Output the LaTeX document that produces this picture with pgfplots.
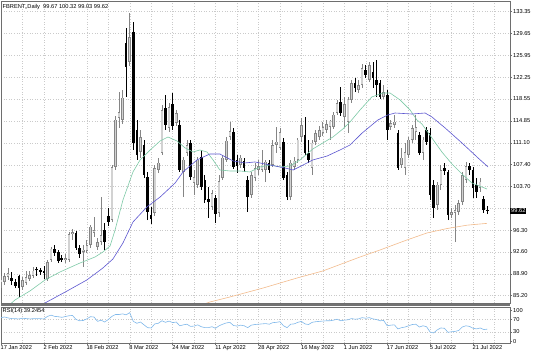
\documentclass[border=0pt]{standalone}
\usepackage{pgfplots}
\pgfplotsset{compat=1.18}
\usepackage{pgfplotstable}
\usepackage{fontspec}
\setmainfont{Liberation Sans}
\definecolor{upfill}{HTML}{D2D2D2}
\definecolor{upline}{HTML}{858585}
\definecolor{magreen}{HTML}{7CC9A6}
\definecolor{mablue}{HTML}{5B55D0}
\definecolor{maorange}{HTML}{F2BB8C}
\definecolor{rsiblue}{HTML}{80B8EA}
\definecolor{gridc}{HTML}{CACACA}
\definecolor{framec}{HTML}{6E6E6E}
\newcommand{\mtfont}{\fontsize{5.7}{6}\selectfont}

\pgfplotstableread{
i o h l c
0 87.35 88.54 86.50 88.03
1 87.52 89.05 87.01 88.54
2 88.37 89.90 87.86 89.05
3 88.20 89.22 87.01 87.69
4 87.52 88.03 86.50 86.84
5 88.54 88.71 84.98 86.50
6 86.67 88.37 86.17 87.86
7 87.35 89.39 87.01 88.37
8 88.03 89.39 87.69 88.71
9 88.54 90.07 88.20 89.39
10 89.56 90.07 88.54 89.47
11 89.56 89.90 88.71 89.22
12 89.39 90.24 88.03 89.05
13 88.03 91.25 87.69 90.91
14 91.25 93.46 90.91 93.12
15 93.12 93.79 91.93 92.44
16 92.61 92.95 90.74 91.08
17 91.59 92.10 90.91 91.25
18 91.25 92.27 90.74 91.59
19 91.25 96.00 90.91 95.66
20 95.66 96.51 94.64 96.00
21 95.83 96.17 92.95 93.29
22 93.29 93.79 91.59 92.27
23 92.61 93.79 90.07 92.95
24 92.78 94.64 92.44 93.79
25 93.79 97.19 93.29 96.85
26 95.83 98.54 95.15 96.34
27 93.46 94.98 92.95 94.30
28 94.30 101.93 93.79 95.49
29 96.34 97.52 92.95 94.30
30 98.71 100.07 97.02 97.69
31 98.03 107.36 97.69 107.02
32 107.02 115.67 106.51 114.99
33 115.33 119.73 113.63 116.34
34 114.99 120.07 114.31 118.72
35 128.04 130.58 118.89 123.97
36 124.82 133.13 124.14 129.06
37 129.90 131.60 109.90 111.09
38 113.29 114.99 108.21 109.05
39 109.56 113.29 108.55 112.10
40 110.75 111.60 105.15 105.66
41 105.32 106.17 98.03 99.39
42 98.88 100.24 97.36 98.20
43 99.22 107.36 98.71 106.85
44 106.51 108.55 105.99 107.70
45 109.39 117.53 109.05 116.68
46 117.02 119.22 113.29 114.14
47 113.63 117.87 112.95 117.19
48 117.70 119.56 113.29 113.97
49 114.48 116.68 113.97 116.17
50 114.14 114.99 106.17 106.51
51 106.17 108.72 101.93 108.21
52 109.39 111.60 108.88 110.75
53 111.09 111.60 104.81 105.32
54 104.31 106.51 102.27 105.32
55 103.97 108.72 103.46 108.21
56 108.72 109.90 103.12 103.63
57 104.81 105.66 100.91 101.42
58 101.59 103.63 98.37 101.08
59 100.24 103.12 99.73 102.61
60 101.76 102.27 97.52 99.05
61 99.22 105.66 98.54 104.64
62 105.15 109.05 104.81 108.55
63 108.21 112.10 107.87 111.43
64 112.10 114.65 111.60 113.12
65 112.95 113.63 106.68 107.02
66 108.21 109.05 106.00 107.19
67 107.36 109.05 106.85 108.55
68 108.04 108.55 106.17 106.85
69 104.81 105.49 99.39 101.93
70 102.27 106.17 101.76 105.66
71 105.15 107.70 104.64 106.85
72 106.51 108.21 105.66 107.19
73 106.51 109.90 106.17 107.36
74 106.51 108.21 104.48 107.87
75 107.70 108.21 106.00 106.51
76 107.36 111.60 107.02 110.75
77 110.75 113.80 109.39 111.26
78 110.24 113.63 109.90 112.95
79 111.26 111.94 104.81 105.15
80 105.66 106.17 101.42 101.93
81 101.93 108.21 101.42 107.70
82 107.02 108.72 106.51 108.04
83 108.21 111.94 107.70 111.60
84 112.10 115.33 111.26 114.14
85 112.44 115.50 109.05 109.39
86 109.39 111.60 107.70 108.21
87 106.85 111.60 105.66 111.09
88 111.26 113.29 110.75 112.78
89 112.10 113.97 111.60 113.29
90 112.78 114.65 112.27 113.80
91 113.29 114.99 112.78 114.31
92 113.80 114.99 111.60 114.82
93 113.80 116.34 113.46 115.84
94 116.17 118.38 115.84 117.87
95 118.04 120.58 115.67 116.17
96 115.50 118.89 113.80 117.70
97 114.65 118.89 112.78 118.38
98 118.38 121.77 117.87 121.26
99 121.26 122.11 119.73 120.41
100 120.07 121.77 119.56 120.92
101 120.92 124.48 120.41 123.80
102 123.46 124.31 122.11 122.62
103 121.77 124.82 121.43 124.31
104 123.12 124.82 120.41 122.11
105 121.77 125.16 118.89 120.92
106 121.26 121.77 118.55 118.89
107 118.89 120.92 118.55 119.73
108 119.22 120.07 111.60 113.29
109 113.80 114.99 113.29 114.48
110 114.14 115.84 113.63 114.65
111 112.78 113.29 106.51 106.85
112 107.36 110.24 106.85 108.55
113 106.85 111.09 105.66 109.56
114 109.05 112.10 108.55 111.60
115 111.60 114.14 111.09 113.63
116 112.95 115.84 111.60 113.80
117 112.44 112.95 109.05 109.39
118 109.39 112.10 108.21 111.60
119 113.29 113.80 110.75 111.26
120 112.78 113.63 101.42 102.27
121 103.97 104.81 98.37 100.07
122 100.58 104.48 99.73 103.97
123 103.97 107.36 103.12 106.51
124 106.85 107.70 105.66 106.34
125 106.17 106.51 98.03 98.88
126 98.88 100.07 98.37 99.39
127 99.22 100.58 94.30 99.73
128 99.39 101.42 98.88 100.91
129 101.08 106.17 100.58 105.66
130 104.81 107.87 104.31 107.19
131 107.19 107.70 105.66 106.51
132 106.51 107.02 101.76 103.46
133 103.97 105.15 101.76 102.78
134 103.46 105.15 102.78 104.48
135 101.59 102.10 99.22 99.73
136 99.67 100.32 99.03 99.62
}\candles

\pgfplotsset{
  mtgrid/.style={grid style={gridc, dash pattern=on 0.6pt off 2.0pt, line width=0.45pt}},
}

\begin{document}
\begin{tikzpicture}
\useasboundingbox (0pt,0pt) rectangle (536pt,352pt);

\begin{axis}[
  at={(1pt,49pt)}, anchor=south west,
  scale only axis, width=509pt, height=302pt,
  xmin=0, xmax=142.34, ymin=83.96, ymax=135.16,
  clip mode=individual,
  axis line style={framec, line width=0.5pt},
  mtgrid,
  xtick={0,6,...,138}, xticklabels={}, xmajorgrids,
  major x tick style={draw=none},
  ytick={85.20,88.90,92.60,96.30,100.00,103.70,107.40,111.10,114.85,118.55,122.25,125.95,129.65,133.35},
  yticklabels={85.20,88.90,92.60,96.30,{},103.70,107.40,111.10,114.85,118.55,122.25,125.95,129.65,133.35},
  ymajorgrids,
  ytick pos=right, yticklabel pos=right,
  tick align=outside, major tick length=2pt,
  major y tick style={framec, line width=0.5pt},
  yticklabel style={font=\mtfont, anchor=west, inner sep=0pt, xshift=1pt},
  /pgf/number format/assume math mode=true,
]
\addplot[draw=none, forget plot,
  restrict expr to domain={\thisrow{c}-\thisrow{o}}{0:100},
  error bars/.cd, y dir=plus, y explicit, error mark=none,
  error bar style={draw=upline, line width=0.7pt}]
  table[x=i, y=l, y error plus expr={\thisrow{h}-\thisrow{l}}] {\candles};
\addplot[draw=none, forget plot,
  restrict expr to domain={\thisrow{c}-\thisrow{o}}{-100:-0.0001},
  error bars/.cd, y dir=plus, y explicit, error mark=none,
  error bar style={draw=black, line width=0.7pt}]
  table[x=i, y=l, y error plus expr={\thisrow{h}-\thisrow{l}}] {\candles};
\addplot[draw=none, forget plot,
  restrict expr to domain={\thisrow{c}-\thisrow{o}}{-100:-0.0001},
  error bars/.cd, y dir=plus, y explicit, error mark=none,
  error bar style={draw=black, line width=2.6pt}]
  table[x=i, y=c, y error plus expr={max(\thisrow{o}-\thisrow{c},0.17)}] {\candles};
\addplot[draw=none, forget plot,
  restrict expr to domain={\thisrow{c}-\thisrow{o}}{0:100},
  error bars/.cd, y dir=plus, y explicit, error mark=none,
  error bar style={draw=upline, line width=2.6pt}]
  table[x=i, y=o, y error plus expr={max(\thisrow{c}-\thisrow{o},0.17)}] {\candles};
\addplot[draw=none, forget plot,
  restrict expr to domain={\thisrow{c}-\thisrow{o}}{0:100},
  error bars/.cd, y dir=plus, y explicit, error mark=none,
  error bar style={draw=upfill, line width=1.5pt}]
  table[x=i, y expr={\thisrow{o}+0.09}, y error plus expr={max(\thisrow{c}-\thisrow{o}-0.18,0)}] {\candles};

\addplot[magreen, line width=0.6pt, no marks] coordinates {
(2.0,83.45) (3.9,84.47) (8.1,86.00) (12.3,87.86) (16.5,89.22) (22.1,90.74) (26.3,91.76)
(28.5,92.61) (30.5,93.62) (31.9,96.34) (34.1,101.42) (36.9,106.17) (38.9,108.21)
(41.7,109.90) (44.5,111.43) (46.7,112.10) (49.2,111.43) (51.5,110.24) (53.7,109.56)
(55.6,109.90) (57.6,109.56) (59.3,108.21) (61.2,106.51) (64.0,106.34) (66.8,106.34)
(69.6,106.17) (72.4,107.02) (75.2,107.36) (78.0,107.02) (80.8,107.19) (83.6,108.21)
(87.2,110.07) (90.0,111.09) (92.8,112.10) (95.6,113.46) (97.6,114.65) (100.4,116.68)
(103.7,118.89) (106.8,119.56) (108.8,119.56) (111.6,118.38) (114.4,116.68) (116.3,114.99)
(117.7,114.31) (120.5,111.94) (123.3,109.56) (126.1,107.53) (128.9,105.83) (131.7,104.31)
(135.9,103.29)};
\addplot[mablue, line width=0.6pt, no marks] coordinates {
(11.0,83.50) (12.3,83.96) (18.5,86.00) (24.0,87.86) (28.5,89.90) (31.3,91.42) (34.1,94.13)
(36.9,97.69) (40.8,100.24) (44.5,101.93) (48.7,104.31) (50.9,106.17) (54.8,108.21)
(58.4,109.22) (61.2,109.22) (64.9,108.04) (68.2,107.70) (71.0,107.87) (73.8,107.53)
(76.6,107.19) (79.4,106.85) (81.7,106.51) (84.5,107.36) (87.2,108.21) (91.2,108.88)
(94.8,109.90) (97.6,110.75) (101.0,112.78) (105.4,114.99) (108.2,115.84) (110.2,116.17)
(114.9,116.00) (118.6,116.17) (120.5,115.50) (124.2,113.63) (128.9,111.09) (133.4,108.55)
(136.2,107.02)};
\addplot[maorange, line width=0.6pt, no marks] coordinates {
(56.0,83.60) (58.4,84.13) (64.0,84.98) (73.3,86.50) (82.8,88.20) (90.0,89.39) (100.4,91.76)
(106.0,92.95) (113.5,94.64) (119.1,95.83) (124.7,96.58) (130.3,97.15) (135.9,97.46)};

\node[fill=black, text=white, font=\mtfont, anchor=west, inner xsep=1pt, inner ysep=1pt]
  at (axis cs:142.34,99.62) {99.62};
\end{axis}

\fill[black!55] (1pt,45.6pt) rectangle (510pt,48.4pt);

\begin{axis}[
  at={(1pt,9pt)}, anchor=south west,
  scale only axis, width=509pt, height=36pt,
  xmin=0, xmax=142.34, ymin=-5, ymax=110,
  axis line style={framec, line width=0.5pt},
  mtgrid,
  xtick={0,12,...,132},
  xticklabels={17 Jan 2022,2 Feb 2022,18 Feb 2022,8 Mar 2022,24 Mar 2022,11 Apr 2022,28 Apr 2022,16 May 2022,1 Jun 2022,17 Jun 2022,5 Jul 2022,21 Jul 2022},
  minor xtick={6,18,...,138},
  xmajorgrids, xminorgrids,
  ytick={30,70}, yticklabels={30,70}, ymajorgrids,
  extra y ticks={0,100}, extra y tick labels={0,100},
  extra y tick style={grid=none},
  xtick pos=bottom, ytick pos=right, yticklabel pos=right,
  tick align=outside, major tick length=2pt, minor tick length=0pt,
  tick style={framec, line width=0.5pt},
  xticklabel style={font=\mtfont, anchor=north west, inner sep=0pt, xshift=-0.5pt, yshift=-0.5pt},
  yticklabel style={font=\mtfont, anchor=west, inner sep=0pt, xshift=1pt},
  /pgf/number format/assume math mode=true,
]
\addplot[rsiblue, line width=0.6pt, no marks] coordinates {
(0,76) (1,78) (2,75) (3,73) (5,72) (6,74) (8,72) (10,73) (12,72) (13,80) (14,84) (15,80)
(16,79) (17,77) (19,82) (20,83) (21,70) (22,66) (23,67) (24,72) (25,79) (26,78) (27,64)
(28,68) (29,62) (30,70) (31,80) (32,86) (33,86) (34,88) (35,85) (36,92) (37,64) (38,58)
(39,62) (40,53) (41,44) (42,43) (43,56) (44,58) (45,66) (46,61) (47,65) (48,60) (49,62)
(50,50) (51,53) (52,55) (53,48) (54,49) (55,53) (56,47) (57,44) (58,44) (59,47) (60,42)
(61,50) (62,55) (63,59) (64,61) (65,51) (66,49) (67,52) (68,50) (69,44) (70,52) (71,54)
(72,55) (73,56) (74,57) (75,55) (76,60) (77,61) (78,63) (79,50) (80,44) (81,55) (82,56)
(83,61) (84,64) (85,56) (86,54) (87,61) (88,63) (89,64) (90,65) (91,66) (92,66) (93,68)
(94,71) (95,66) (96,68) (97,69) (98,73) (99,71) (100,72) (101,76) (102,74) (103,76)
(104,72) (105,70) (106,66) (107,67) (108,50) (109,52) (110,53) (111,40) (112,44) (113,46)
(114,50) (115,54) (116,55) (117,46) (118,50) (119,47) (120,30) (121,27) (122,37) (123,43)
(124,42) (125,29) (126,31) (127,32) (128,35) (129,46) (130,50) (131,48) (132,42) (133,40)
(134,43) (135,38) (136,39.25)};
\end{axis}

\node[anchor=west, font=\mtfont, inner sep=0pt] at (2.5pt,345pt)
  {FBRENT,,Daily\ \ 99.67 100.32 99.03 99.62};
\node[anchor=west, font=\mtfont, inner sep=0pt] at (2.5pt,41pt) {RSI(14) 39.2454};
\end{tikzpicture}
\end{document}
